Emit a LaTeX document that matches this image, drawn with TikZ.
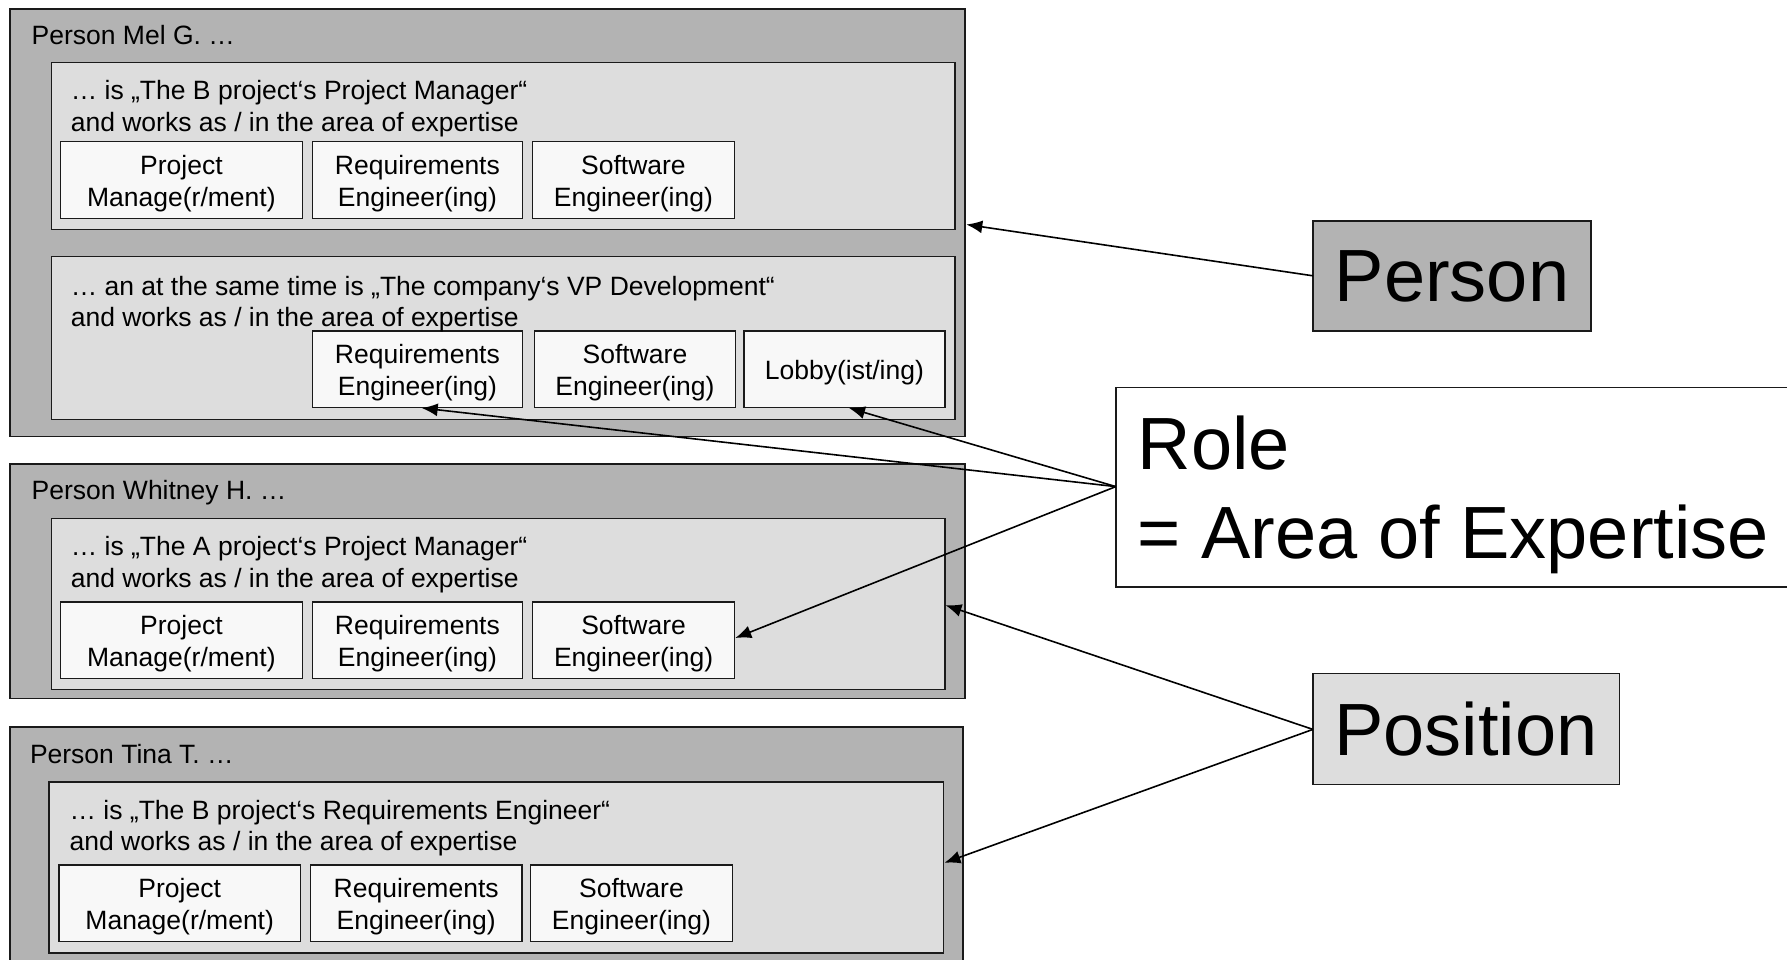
\documentclass[tikz,border=0pt]{standalone}
\usepackage{fontspec}
\setmainfont{Liberation Sans}
\usetikzlibrary{arrows.meta}
\definecolor{outerfill}{HTML}{B3B3B3}
\definecolor{innerfill}{HTML}{DDDDDD}
\definecolor{cellfill}{HTML}{F8F8F8}
\definecolor{edge}{HTML}{1A1A1A}
\tikzset{
  box/.style={draw=edge, line width=1.4pt},
  outerbox/.style={box, fill=outerfill, line width=1.9pt},
  innerbox/.style={box, fill=innerfill},
  cell/.style={box, fill=cellfill},
  celltext/.style={align=center, font=\fontsize{26.5}{31.6}\selectfont, inner sep=0pt, yshift=-3.4pt},
  txt/.style={anchor=west, align=left, font=\fontsize{26.5}{31.6}\selectfont, inner sep=0pt, yshift=-2.3pt},
  lbl/.style={anchor=west, font=\fontsize{26.5}{31.6}\selectfont, inner sep=0pt},
  bigtxt/.style={font=\fontsize{74}{89}\selectfont, inner sep=0pt},
  conn/.style={line width=1.6pt, -{Latex[length=16pt,width=13pt]}},
}
\begin{document}
\begin{tikzpicture}[x=1pt,y=-1pt]
\useasboundingbox (0,0) rectangle (1787,960);
\clip (0,0) rectangle (1787,960);
\fill[white] (0,0) rectangle (1787,960);

% ---------- Person Mel G.
\draw[outerbox] (10.3,9.1) rectangle (965.3,436.5);
\coordinate (melR) at (966.3,224.5);
\node[lbl] (melL) at (31.5,35.5) {Person Mel G. …};

\draw[innerbox] (51.3,62.7) rectangle (955.1,229.5);
\draw[cell] (60.6,141.6) rectangle (302.3,218.5);
\node[celltext] (m1a) at (181.4,180) {Project\\Manage(r/ment)};
\draw[cell] (312.2,141.6) rectangle (522.6,218.5);
\node[celltext] (m1b) at (417.4,180) {Requirements\\Engineer(ing)};
\draw[cell] (532.6,141.6) rectangle (734.2,218.5);
\node[celltext] (m1c) at (633.4,180) {Software\\Engineer(ing)};
\node[txt] (m1t) at (70.6,106.3) {… is „The B project‘s Project Manager“\\and works as / in the area of expertise};

\draw[innerbox] (51.3,256.7) rectangle (955.1,419.2);
\draw[cell] (312.2,331) rectangle (522.6,407.5);
\node[celltext] (m2b) at (417.4,369.5) {Requirements\\Engineer(ing)};
\coordinate (reqB) at (421.7,408);
\draw[cell] (534.4,331) rectangle (735.6,407.5);
\node[celltext] (m2c) at (635,369.5) {Software\\Engineer(ing)};
\draw[cell] (743.9,331) rectangle (944.9,407.5);
\node[celltext] (m2d) at (844.4,369.5) {Lobby(ist/ing)};
\coordinate (lobB) at (849,408);
\node[txt] (m2t) at (70.6,302) {… an at the same time is „The company‘s VP Development“\\and works as / in the area of expertise};

% ---------- Person Whitney H.
\draw[outerbox] (10.3,463.9) rectangle (965.3,698.5);
\node[lbl] (whL) at (31.5,492.4) {Person Whitney H. …};
\draw[innerbox] (51.3,518.7) rectangle (944.8,689.5);
\coordinate (whR) at (945.5,605.2);
\draw[cell] (60.6,601.8) rectangle (302.3,678.6);
\node[celltext] (w1a) at (181.4,640.2) {Project\\Manage(r/ment)};
\draw[cell] (312.2,601.8) rectangle (522.6,678.6);
\node[celltext] (w1b) at (417.4,640.2) {Requirements\\Engineer(ing)};
\draw[cell] (532.6,601.8) rectangle (734.6,678.6);
\node[celltext] (w1c) at (633.6,640.2) {Software\\Engineer(ing)};
\coordinate (swR) at (735.3,638);
\node[txt] (w1t) at (70.6,562.5) {… is „The A project‘s Project Manager“\\and works as / in the area of expertise};

% ---------- Person Tina T.
\draw[outerbox] (10.3,727.1) rectangle (963,980);
\node[lbl] (tiL) at (29.8,754.5) {Person Tina T. …};
\draw[innerbox] (48.9,781.8) rectangle (943.7,952.8);
\coordinate (tiR) at (944.4,862.8);
\draw[cell] (58.8,865) rectangle (300.6,941.6);
\node[celltext] (t1a) at (179.7,903.3) {Project\\Manage(r/ment)};
\draw[cell] (310.6,865) rectangle (521.9,941.6);
\node[celltext] (t1b) at (416.2,903.3) {Requirements\\Engineer(ing)};
\draw[cell] (530.6,865) rectangle (732.5,941.6);
\node[celltext] (t1c) at (631.5,903.3) {Software\\Engineer(ing)};
\node[txt] (t1t) at (69.4,825.8) {… is „The B project‘s Requirements Engineer“\\and works as / in the area of expertise};

% ---------- Legend boxes
\draw[box, fill=outerfill] (1312.9,221.1) rectangle (1591,330.8);
\node[bigtxt] (person) at (1452,276) {Person};
\coordinate (personL) at (1312.9,275.8);

\draw[box, fill=white] (1115.8,387.5) rectangle (1800,587);
\node[bigtxt, anchor=west, align=left] (role) at (1137.4,494.7) {Role\\= Area of Expertise};
\coordinate (roleL) at (1115.8,486.6);

\draw[box, fill=innerfill] (1312.9,673.6) rectangle (1619.6,784.3);
\node[bigtxt] (position) at (1466,729) {Position};
\coordinate (posL) at (1312.9,729.4);

% ---------- Connectors
\draw[conn] (personL) -- (melR);
\draw[conn] (roleL) -- (reqB);
\draw[conn] (roleL) -- (lobB);
\draw[conn] (roleL) -- (swR);
\draw[conn] (posL) -- (whR);
\draw[conn] (posL) -- (tiR);
\end{tikzpicture}
\end{document}
